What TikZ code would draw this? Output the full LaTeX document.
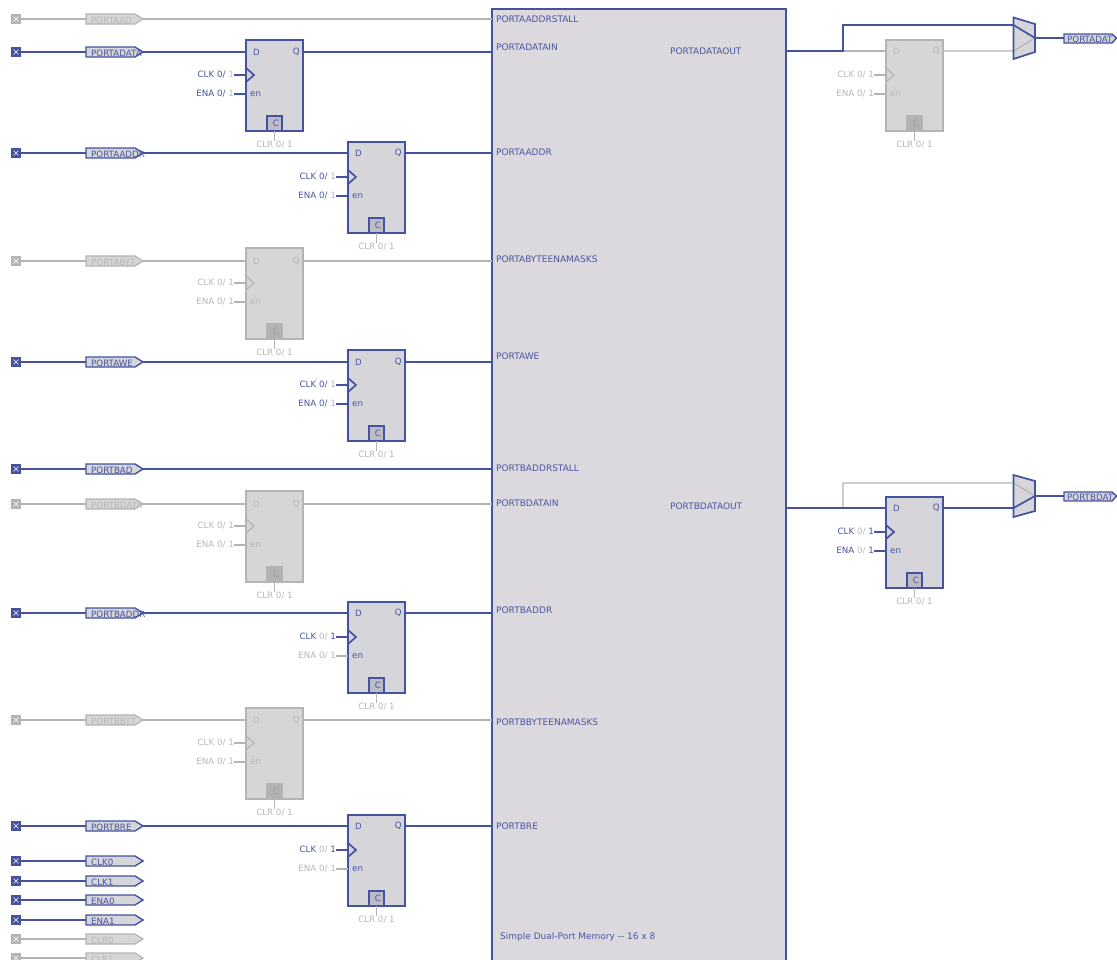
\documentclass[tikz,border=0pt]{standalone}
\usepackage{fontspec}
\setmainfont{DejaVu Sans}
\definecolor{bmain}{HTML}{4452A0}
\definecolor{gmain}{HTML}{B4B4B4}
\definecolor{btext}{HTML}{4A55A0}
\definecolor{gtext}{HTML}{B8B8B8}
\definecolor{gdark}{HTML}{A0A0A0}
\definecolor{bfill}{HTML}{D6D5DA}
\definecolor{gfill}{HTML}{D6D6D6}
\definecolor{bcbox}{HTML}{BDBCC6}
\definecolor{gcbox}{HTML}{B2B2B2}
\definecolor{memfill}{HTML}{DBD9DE}
\tikzset{
  bwire/.style={draw=bmain,line width=1.7pt},
  gwire/.style={draw=gmain,line width=1.2pt},
  bbox/.style={draw=bmain,line width=1.7pt,fill=bfill,outer sep=0pt},
  gbox/.style={draw=gmain,line width=1.3pt,fill=gfill,outer sep=0pt},
  bc/.style={draw=bmain,line width=1.7pt,fill=bcbox,outer sep=0pt},
  gc/.style={draw=gmain,line width=1.3pt,fill=gcbox,outer sep=0pt},
  bport/.style={draw=bmain,line width=1.4pt,fill=bfill},
  gport/.style={draw=gmain,line width=1.2pt,fill=gfill},
  btxt/.style={text=btext,font=\fontsize{8.7}{9}\selectfont,inner sep=0pt},
  gtxt/.style={text=gtext,font=\fontsize{8.7}{9}\selectfont,inner sep=0pt},
  bterm/.style={fill=bmain,minimum size=10pt,inner sep=0pt,path picture={\draw[white,line width=.5pt] (path picture bounding box.north west)++(2.5pt,-2.5pt) -- ++(5pt,-5pt) ++(-5pt,0) -- ++(5pt,5pt);}},
  gterm/.style={fill=gmain,minimum size=10pt,inner sep=0pt,path picture={\draw[white,line width=.5pt] (path picture bounding box.north west)++(2.5pt,-2.5pt) -- ++(5pt,-5pt) ++(-5pt,0) -- ++(5pt,5pt);}},
  memlabel/.style={text=btext,font=\fontsize{9}{10}\selectfont,inner sep=0pt,anchor=west},
}
% port: name, y, text, b/g
\newcommand{\portpin}[4]{%
  \node[#4term] (#1t) at (16,#2) {};
  \coordinate (#1i) at (86,#2);
  \coordinate (#1o) at (143,#2);
  \draw[#4port] (86,#2-5) -- (135,#2-5) -- (143,#2) -- (135,#2+5) -- (86,#2+5) -- cycle;
  \node[#4txt,anchor=west] (#1l) at (91,#2+1.5) {#3};
  \draw[#4wire] (#1t) -- (#1i);
}
% flip-flop: name, x, top, wire y, b/g
\newcommand{\ffbox}[5]{%
  \node[#5box,anchor=north west,minimum width=57pt,minimum height=91pt,inner sep=0pt] (#1) at (#2,#3) {};
  \coordinate (#1d) at (#2,#4);
  \coordinate (#1q) at (#2+57,#4);
  \coordinate (#1k) at (#2,#3+35);
  \coordinate (#1e) at (#2,#3+54);
  \node[#5txt,anchor=west] (#1dl) at (#2+7,#4) {D};
  \node[#5txt,anchor=east] (#1ql) at (#2+54,#4) {Q};
  \node[#5txt,anchor=west] (#1el) at (#2+4,#3+54) {en};
  \draw[#5wire,fill=none] (#2,#3+28) -- (#2+8,#3+35) -- (#2,#3+42);
  \node[#5c,anchor=north west,minimum width=15pt,minimum height=15pt,inner sep=0pt] (#1c) at (#2+21,#3+76) {};
  \node[#5txt] (#1cl) at (#2+30,#3+83) {\ifx g#5\textcolor{gdark}{C}\else C\fi};
  \node[gtxt] (#1r) at (#2+28.5,#3+105) {CLR 0/ 1};
  \draw[gwire] (#1c.south -| #1r) -- (#1r.north);
}
\newcommand{\ffctl}[7]{% ff, pin suffix, word, col word, col zero, col one, wire style
  \node[btxt,anchor=east] (#1#2l) at ($(#1#2)+(-12,0)$) {\textcolor{#4}{#3} \textcolor{#5}{0/} \textcolor{#6}{1}};
  \draw[#7] (#1#2l.east) -- (#1#2);
}
\usetikzlibrary{calc}
\begin{document}
\begin{tikzpicture}[x=1pt,y=-1pt]
\clip (0,0) rectangle (1117,959);
\fill[white] (0,0) rectangle (1117,959);

% memory block
\node[draw=bmain,line width=1.7pt,fill=memfill,outer sep=0pt,anchor=north west,minimum width=294pt,minimum height=1000pt,inner sep=0pt] (mem) at (492,9) {};
\foreach \n/\y/\t in {a/19.5/PORTAADDRSTALL,b/47.5/PORTADATAIN,c/152.5/PORTAADDR,d/259.5/PORTABYTEENAMASKS,e/356.5/PORTAWE,f/468.5/PORTBADDRSTALL,g/503.5/PORTBDATAIN,h/610.5/PORTBADDR,i/722.5/PORTBBYTEENAMASKS,j/826.5/PORTBRE}
  \node[memlabel] (ml\n) at (496,\y) {\t};
\node[memlabel] (mla) at (670,51) {PORTADATAOUT};
\node[memlabel] (mlb) at (670,506) {PORTBDATAOUT};
\node[memlabel] (mlc) at (500,937.5) {Simple Dual-Port Memory {-}{-} 16 x 8};

% input ports
\portpin{pa}{19}{PORTAAD}{g}
\portpin{pb}{52}{PORTADATA}{b}
\portpin{pc}{153}{PORTAADDR}{b}
\portpin{pd}{261}{PORTABYT}{g}
\portpin{pe}{362}{PORTAWE}{b}
\portpin{pf}{469}{PORTBAD}{b}
\portpin{pg}{504}{PORTBDATA}{g}
\portpin{ph}{613}{PORTBADDR}{b}
\portpin{pi}{720}{PORTBBYT}{g}
\portpin{pj}{826}{PORTBRE}{b}
\portpin{pk}{861}{CLK0}{b}
\portpin{pl}{881}{CLK1}{b}
\portpin{pm}{900}{ENA0}{b}
\portpin{pn}{920}{ENA1}{b}
\portpin{po}{939}{CLR0}{g}
\portpin{pp}{958}{CLR1}{g}

% flip-flops
\ffbox{fa}{246}{40}{52}{b}
\ffbox{fb}{348}{142}{153}{b}
\ffbox{fc}{246}{248}{261}{g}
\ffbox{fd}{348}{350}{362}{b}
\ffbox{fe}{246}{491}{504}{g}
\ffbox{ff}{348}{602}{613}{b}
\ffbox{fg}{246}{708}{720}{g}
\ffbox{fh}{348}{815}{826}{b}
\ffbox{fi}{886}{40}{51}{g}
\ffbox{fj}{886}{497}{508}{b}

\ffctl{fa}{k}{CLK}{btext}{btext}{gtext}{bwire}
\ffctl{fa}{e}{ENA}{btext}{btext}{gtext}{bwire}
\ffctl{fb}{k}{CLK}{btext}{btext}{gtext}{bwire}
\ffctl{fb}{e}{ENA}{btext}{btext}{gtext}{bwire}
\ffctl{fc}{k}{CLK}{gtext}{gtext}{gtext}{gwire}
\ffctl{fc}{e}{ENA}{gtext}{gtext}{gtext}{gwire}
\ffctl{fd}{k}{CLK}{btext}{btext}{gtext}{bwire}
\ffctl{fd}{e}{ENA}{btext}{btext}{gtext}{bwire}
\ffctl{fe}{k}{CLK}{gtext}{gtext}{gtext}{gwire}
\ffctl{fe}{e}{ENA}{gtext}{gtext}{gtext}{gwire}
\ffctl{ff}{k}{CLK}{btext}{gtext}{btext}{bwire}
\ffctl{ff}{e}{ENA}{gtext}{gtext}{gtext}{gwire}
\ffctl{fg}{k}{CLK}{gtext}{gtext}{gtext}{gwire}
\ffctl{fg}{e}{ENA}{gtext}{gtext}{gtext}{gwire}
\ffctl{fh}{k}{CLK}{btext}{gtext}{btext}{bwire}
\ffctl{fh}{e}{ENA}{gtext}{gtext}{gtext}{gwire}
\ffctl{fi}{k}{CLK}{gtext}{gtext}{gtext}{gwire}
\ffctl{fi}{e}{ENA}{gtext}{gtext}{gtext}{gwire}
\ffctl{fj}{k}{CLK}{btext}{gtext}{btext}{bwire}
\ffctl{fj}{e}{ENA}{btext}{gtext}{btext}{bwire}

% input connectors
\draw[gwire] (pao) -- (pao -| mem.west);
\draw[bwire] (pbo) -- (fad);
\draw[bwire] (faq) -- (faq -| mem.west);
\draw[bwire] (pco) -- (fbd);
\draw[bwire] (fbq) -- (fbq -| mem.west);
\draw[gwire] (pdo) -- (fcd);
\draw[gwire] (fcq) -- (fcq -| mem.west);
\draw[bwire] (peo) -- (fdd);
\draw[bwire] (fdq) -- (fdq -| mem.west);
\draw[bwire] (pfo) -- (pfo -| mem.west);
\draw[gwire] (pgo) -- (fed);
\draw[gwire] (feq) -- (feq -| mem.west);
\draw[bwire] (pho) -- (ffd);
\draw[bwire] (ffq) -- (ffq -| mem.west);
\draw[gwire] (pio) -- (fgd);
\draw[gwire] (fgq) -- (fgq -| mem.west);
\draw[bwire] (pjo) -- (fhd);
\draw[bwire] (fhq) -- (fhq -| mem.west);

% mux A
\coordinate (mai) at (1013.5,25);
\coordinate (maj) at (1013.5,51);
\coordinate (mao) at (1035,38);
\coordinate (jna) at (843,51);
\fill[bfill] (1013.5,17.5) -- (1035,24) -- (1035,52) -- (1013.5,59) -- cycle;
\draw[gwire] (jna) -- (fid);
\draw[gwire] (fiq) -- (maj) -- (mao);
\draw[bwire] (jna -| mem.east) -- (jna) -- (jna |- mai) -- (mai) -- (mao);
\draw[bmain,line width=1.7pt] (1013.5,17.5) -- (1035,24) -- (1035,52) -- (1013.5,59) -- cycle;
\coordinate (qai) at (1064,38);
\draw[bwire] (mao) -- (qai);
\draw[bport] (1064,34) -- (1112,34) -- (1116.5,38) -- (1112,43) -- (1064,43) -- cycle;
\node[btxt,anchor=west] (qal) at (1067,39) {PORTADAT};

% mux B
\coordinate (mbi) at (1013.5,483);
\coordinate (mbj) at (1013.5,508);
\coordinate (mbo) at (1035,496);
\coordinate (jnb) at (843,508);
\fill[bfill] (1013.5,475) -- (1035,481) -- (1035,511) -- (1013.5,517) -- cycle;
\draw[gwire] (jnb) -- (jnb |- mbi) -- (mbi) -- (mbo);
\draw[bwire] (jnb -| mem.east) -- (fjd);
\draw[bwire] (fjq) -- (mbj) -- (mbo);
\draw[bmain,line width=1.7pt] (1013.5,475) -- (1035,481) -- (1035,511) -- (1013.5,517) -- cycle;
\coordinate (qbi) at (1064,496);
\draw[bwire] (mbo) -- (qbi);
\draw[bport] (1064,492) -- (1112,492) -- (1116.5,496) -- (1112,501) -- (1064,501) -- cycle;
\node[btxt,anchor=west] (qbl) at (1067,497) {PORTBDAT};
\end{tikzpicture}
\end{document}
